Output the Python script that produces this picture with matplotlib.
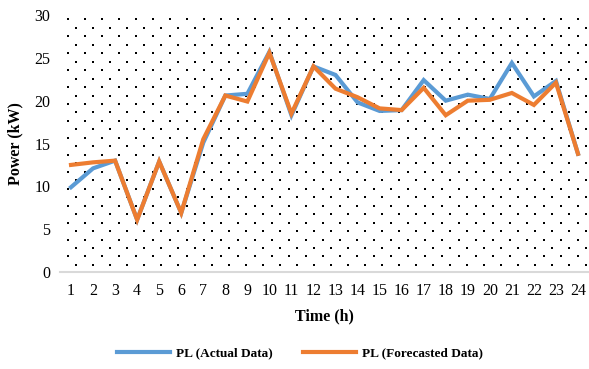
import matplotlib
matplotlib.use('Agg')
import matplotlib.pyplot as plt
import numpy as np

plt.rcParams.update({
    'font.family': ['Liberation Serif', 'DejaVu Serif'],
    'font.size': 11,
})

hours = np.arange(1, 25)
pl_actual = [9.9, 12.1, 13.0, 6.1, 12.9, 6.9, 15.1, 20.6, 20.8, 25.7, 18.3, 24.0,
             23.0, 19.8, 18.8, 18.9, 22.4, 20.0, 20.7, 20.2, 24.4, 20.5, 22.3, 13.8]
pl_forecast = [12.5, 12.8, 13.0, 6.1, 12.9, 6.9, 15.5, 20.6, 19.9, 25.6, 18.5, 24.0,
               21.4, 20.4, 19.1, 18.9, 21.5, 18.3, 20.0, 20.1, 20.9, 19.5, 22.1, 13.8]
x_labels = [str(h) for h in hours]
y_ticks = [0, 5, 10, 15, 20, 25, 30]

W, H = 589, 369
fig = plt.figure(figsize=(W / 100, H / 100), dpi=100)
# plot area in pixels: left 60, top 15, width 529, height 257
ax_l, ax_t, ax_w, ax_h = 60, 15, 529, 257
ax = fig.add_axes([ax_l / W, (H - ax_t - ax_h) / H, ax_w / W, ax_h / H])

# dotted fill of the plot area (staggered grid, 17 px across, ~8.5 px down)
dx, dy = 17.0, 8.47
px, py = [], []
for r in range(30):
    y = 19.3 + r * dy
    x0 = 67.7 if r % 2 == 0 else 67.7 + dx / 2
    xs = np.arange(x0, ax_l + ax_w, dx)
    px.extend(xs)
    py.extend([y] * len(xs))
px = (np.array(px) - ax_l) / ax_w
py = (ax_t + ax_h - np.array(py)) / ax_h
ax.scatter(px, py, s=2.2, marker='s', color='black', linewidths=0,
           transform=ax.transAxes, zorder=1, clip_on=True)

ax.plot(hours, pl_actual, color='#5B9BD5', lw=3.0, zorder=3,
        solid_joinstyle='miter', label='PL (Actual Data)')
ax.plot(hours, pl_forecast, color='#ED7D31', lw=3.0, zorder=4,
        solid_joinstyle='miter', label='PL (Forecasted Data)')

ax.set_xlim(0.5, 24.5)
ax.set_ylim(0, 30)
ax.set_xticks(hours)
ax.set_xticklabels(x_labels)
ax.set_yticks(y_ticks)
ax.tick_params(axis='both', length=0, labelsize=11.5)
ax.tick_params(axis='x', pad=8)
ax.tick_params(axis='y', pad=7)

for side in ['top', 'right', 'left']:
    ax.spines[side].set_visible(False)
ax.spines['bottom'].set_color('#D9D9D9')
ax.spines['bottom'].set_linewidth(1.5)
ax.spines['bottom'].set_zorder(2)

ax.set_xlabel('Time (h)', fontweight='bold', fontsize=11.5)
ax.xaxis.label.set_va('center')
ax.xaxis.set_label_coords(0.5, (ax_t + ax_h - 316.7) / ax_h)
ax.set_ylabel('Power (kW)', fontweight='bold', fontsize=11.5)
ax.yaxis.label.set_va('center')
ax.yaxis.set_label_coords((15 - ax_l) / ax_w, 0.5)

fig.legend(loc='center', bbox_to_anchor=(300 / W, 1 - 353 / H), ncol=2,
           frameon=False, prop={'weight': 'bold', 'size': 9.5},
           handlelength=4.0, handletextpad=0.45, columnspacing=2.3)

fig.savefig('out.png', dpi=100)
